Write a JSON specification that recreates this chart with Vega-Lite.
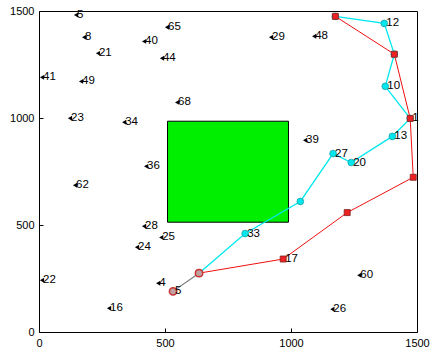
{
  "$schema": "https://vega.github.io/schema/vega-lite/v6.json",
  "width": 378,
  "height": 321,
  "padding": {"left": 39, "top": 11, "right": 18, "bottom": 23},
  "autosize": "none",
  "background": "white",
  "config": {
    "view": {"stroke": "black", "strokeWidth": 1},
    "font": "Liberation Sans",
    "axis": {
      "grid": false, "domain": false, "tickColor": "black", "tickSize": -4, "labelPadding": 9,
      "labelFont": "Liberation Sans", "labelFontSize": 11, "labelColor": "black",
      "format": "d", "title": null
    }
  },
  "datasets": {
    "pts": [
      {"x": 147, "y": 1481, "label": "5"},
      {"x": 179, "y": 1377, "label": "8"},
      {"x": 234, "y": 1302, "label": "21"},
      {"x": 417, "y": 1358, "label": "40"},
      {"x": 508, "y": 1424, "label": "65"},
      {"x": 488, "y": 1279, "label": "44"},
      {"x": 12, "y": 1190, "label": "41"},
      {"x": 167, "y": 1171, "label": "49"},
      {"x": 123, "y": 999, "label": "23"},
      {"x": 338, "y": 980, "label": "34"},
      {"x": 548, "y": 1073, "label": "68"},
      {"x": 425, "y": 774, "label": "36"},
      {"x": 143, "y": 686, "label": "62"},
      {"x": 417, "y": 494, "label": "28"},
      {"x": 485, "y": 442, "label": "25"},
      {"x": 389, "y": 396, "label": "24"},
      {"x": 12, "y": 242, "label": "22"},
      {"x": 473, "y": 228, "label": "4"},
      {"x": 278, "y": 111, "label": "16"},
      {"x": 921, "y": 1377, "label": "29"},
      {"x": 1092, "y": 1382, "label": "48"},
      {"x": 1056, "y": 896, "label": "39"},
      {"x": 1271, "y": 265, "label": "60"},
      {"x": 1164, "y": 106, "label": "26"}
    ],
    "cyan": [
      {"o": 1, "x": 635, "y": 275, "label": ""},
      {"o": 2, "x": 818, "y": 460, "label": "33"},
      {"o": 3, "x": 1037, "y": 610, "label": ""},
      {"o": 4, "x": 1167, "y": 834, "label": "27"},
      {"o": 5, "x": 1239, "y": 792, "label": "20"},
      {"o": 6, "x": 1402, "y": 914, "label": "13"},
      {"o": 7, "x": 1473, "y": 998, "label": "1"},
      {"o": 8, "x": 1374, "y": 1148, "label": "10"},
      {"o": 9, "x": 1410, "y": 1298, "label": ""},
      {"o": 10, "x": 1370, "y": 1442, "label": "12"},
      {"o": 11, "x": 1176, "y": 1475, "label": ""}
    ],
    "red": [
      {"o": 1, "x": 635, "y": 275, "label": ""},
      {"o": 2, "x": 969, "y": 341, "label": "17"},
      {"o": 3, "x": 1223, "y": 558, "label": ""},
      {"o": 4, "x": 1485, "y": 723, "label": ""},
      {"o": 5, "x": 1473, "y": 998, "label": ""},
      {"o": 6, "x": 1410, "y": 1298, "label": ""},
      {"o": 7, "x": 1176, "y": 1475, "label": ""}
    ],
    "gray": [
      {"o": 1, "x": 532, "y": 190, "label": "5"},
      {"o": 2, "x": 635, "y": 275, "label": ""}
    ],
    "rect": [
      {"x1": 510, "x2": 990, "y1": 513, "y2": 985}
    ]
  },
  "layer": [
    {
      "data": {"name": "rect"},
      "mark": {"type": "rect", "fill": "#00ee00", "stroke": "black", "strokeWidth": 1},
      "encoding": {
        "x": {"field": "x1", "type": "quantitative", "scale": {"domain": [0, 1500], "nice": false},
              "axis": {"values": [0, 500, 1000, 1500], "labelFlush": false}},
        "x2": {"field": "x2"},
        "y": {"field": "y1", "type": "quantitative", "scale": {"domain": [0, 1500], "nice": false},
              "axis": {"values": [0, 500, 1000, 1500], "labelFlush": false}},
        "y2": {"field": "y2"}
      }
    },
    {
      "data": {"name": "gray"},
      "mark": {"type": "line", "color": "#808080", "strokeWidth": 1.2},
      "encoding": {
        "x": {"field": "x", "type": "quantitative"},
        "y": {"field": "y", "type": "quantitative"},
        "order": {"field": "o"}
      }
    },
    {
      "data": {"name": "red"},
      "mark": {"type": "line", "color": "#ee1111", "strokeWidth": 1},
      "encoding": {
        "x": {"field": "x", "type": "quantitative"},
        "y": {"field": "y", "type": "quantitative"},
        "order": {"field": "o"}
      }
    },
    {
      "data": {"name": "cyan"},
      "mark": {"type": "line", "color": "#00e8ee", "strokeWidth": 1.3},
      "encoding": {
        "x": {"field": "x", "type": "quantitative"},
        "y": {"field": "y", "type": "quantitative"},
        "order": {"field": "o"}
      }
    },
    {
      "data": {"name": "pts"},
      "mark": {"type": "text", "align": "left", "baseline": "middle", "dx": 1, "fontSize": 11.5, "color": "black"},
      "encoding": {
        "x": {"field": "x", "type": "quantitative"},
        "y": {"field": "y", "type": "quantitative"},
        "text": {"field": "label"}
      }
    },
    {
      "data": {"name": "pts"},
      "mark": {"type": "point", "shape": "triangle-left", "filled": true, "color": "black", "size": 24, "opacity": 1},
      "encoding": {
        "x": {"field": "x", "type": "quantitative"},
        "y": {"field": "y", "type": "quantitative"}
      }
    },
    {
      "data": {"name": "cyan"},
      "mark": {"type": "point", "shape": "circle", "filled": true, "fill": "#00e8ee", "stroke": "#20a0a8", "strokeWidth": 0.8, "size": 45, "opacity": 1},
      "encoding": {
        "x": {"field": "x", "type": "quantitative"},
        "y": {"field": "y", "type": "quantitative"}
      }
    },
    {
      "data": {"name": "red"},
      "mark": {"type": "point", "shape": "square", "filled": true, "fill": "#ee2222", "stroke": "#802020", "strokeWidth": 0.8, "size": 36, "opacity": 1},
      "encoding": {
        "x": {"field": "x", "type": "quantitative"},
        "y": {"field": "y", "type": "quantitative"}
      }
    },
    {
      "data": {"name": "gray"},
      "mark": {"type": "point", "shape": "circle", "filled": false, "stroke": "#cc3333", "strokeWidth": 1.5, "size": 55, "opacity": 1, "fill": "#c0a0a0"},
      "encoding": {
        "x": {"field": "x", "type": "quantitative"},
        "y": {"field": "y", "type": "quantitative"}
      }
    },
    {
      "data": {"name": "cyan"},
      "mark": {"type": "text", "align": "left", "baseline": "middle", "dx": 2, "fontSize": 11.5, "color": "black"},
      "encoding": {
        "x": {"field": "x", "type": "quantitative"},
        "y": {"field": "y", "type": "quantitative"},
        "text": {"field": "label"}
      }
    },
    {
      "data": {"name": "red"},
      "mark": {"type": "text", "align": "left", "baseline": "middle", "dx": 2, "fontSize": 11.5, "color": "black"},
      "encoding": {
        "x": {"field": "x", "type": "quantitative"},
        "y": {"field": "y", "type": "quantitative"},
        "text": {"field": "label"}
      }
    },
    {
      "data": {"name": "gray"},
      "mark": {"type": "text", "align": "left", "baseline": "middle", "dx": 2, "fontSize": 11.5, "color": "black"},
      "encoding": {
        "x": {"field": "x", "type": "quantitative"},
        "y": {"field": "y", "type": "quantitative"},
        "text": {"field": "label"}
      }
    }
  ]
}
